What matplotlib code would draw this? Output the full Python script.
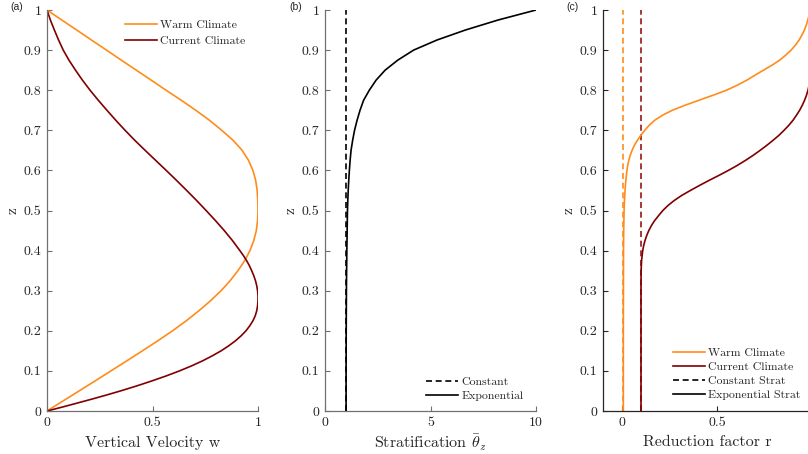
import matplotlib
matplotlib.use("Agg")
import matplotlib.pyplot as plt
from matplotlib.lines import Line2D

plt.rcParams['font.family'] = 'serif'
plt.rcParams['font.serif'] = ['cmr10', 'DejaVu Serif']
plt.rcParams['mathtext.fontset'] = 'cm'
plt.rcParams['axes.formatter.use_mathtext'] = True
plt.rcParams['axes.unicode_minus'] = False

# ---------------- data ----------------
# (a) vertical velocity profiles
z_warm_w = [0, 0.025, 0.05, 0.075, 0.1, 0.125, 0.15, 0.175, 0.2, 0.225, 0.25,
            0.275, 0.3, 0.325, 0.35, 0.375, 0.4, 0.425, 0.45, 0.475, 0.5,
            0.525, 0.55, 0.575, 0.6, 0.625, 0.65, 0.675, 0.7, 0.725, 0.75,
            0.775, 0.8, 0.825, 0.85, 0.875, 0.9, 0.925, 0.95, 0.975, 1.0]
w_warm = [0, 0.076, 0.152, 0.228, 0.303, 0.378, 0.452, 0.525, 0.595, 0.66, 0.72,
          0.775, 0.825, 0.868, 0.905, 0.937, 0.962, 0.98, 0.992, 0.998, 1.0,
          0.999, 0.996, 0.989, 0.976, 0.955, 0.925, 0.882, 0.828, 0.77, 0.705,
          0.636, 0.564, 0.494, 0.423, 0.352, 0.282, 0.211, 0.141, 0.07, 0]

z_curr_w = [0, 0.005, 0.01, 0.02, 0.03, 0.04, 0.05, 0.0625, 0.075, 0.0875, 0.1,
            0.1125, 0.125, 0.1375, 0.15, 0.1625, 0.175, 0.1875, 0.2, 0.2125,
            0.225, 0.2375, 0.25, 0.2625, 0.275, 0.2875, 0.3, 0.3125, 0.325,
            0.3375, 0.35, 0.3625, 0.375, 0.3875, 0.4, 0.425, 0.45, 0.475, 0.5,
            0.525, 0.55, 0.575, 0.6, 0.625, 0.65, 0.675, 0.7, 0.725, 0.75,
            0.775, 0.8, 0.825, 0.85, 0.875, 0.9, 0.925, 0.95, 0.975, 1.0]
w_curr = [0, 0.037, 0.074, 0.145, 0.215, 0.283, 0.348, 0.425, 0.497, 0.565, 0.628,
          0.685, 0.737, 0.783, 0.825, 0.861, 0.893, 0.92, 0.943, 0.961,
          0.976, 0.987, 0.994, 0.998, 1.0, 1.0, 0.998, 0.994, 0.988,
          0.98, 0.97, 0.959, 0.946, 0.931, 0.914, 0.879, 0.84, 0.798, 0.754,
          0.709, 0.662, 0.614, 0.565, 0.515, 0.465, 0.416, 0.37, 0.326, 0.284,
          0.243, 0.204, 0.168, 0.135, 0.104, 0.077, 0.055, 0.035, 0.016, 0]

# (b) stratification profiles
z_strat = [0, 0.1, 0.2, 0.3, 0.4, 0.45, 0.5, 0.525, 0.55, 0.575, 0.6, 0.625,
           0.65, 0.675, 0.7, 0.725, 0.75, 0.775, 0.8, 0.825, 0.85, 0.875, 0.9,
           0.925, 0.95, 0.975, 1.0]
theta_const = [1.0] * len(z_strat)
theta_exp = [1.0, 1.0, 1.005, 1.015, 1.035, 1.05, 1.065, 1.08, 1.10, 1.125, 1.155,
             1.19, 1.235, 1.31, 1.40, 1.52, 1.66, 1.83, 2.10, 2.42, 2.85, 3.45,
             4.20, 5.30, 6.65, 8.20, 10.0]

# (c) reduction factor
z_r_const = [0, 1]
r_warm_const = [0.007, 0.007]
r_curr_const = [0.1, 0.1]

z_r_warm = [0, 0.2, 0.4, 0.45, 0.5, 0.525, 0.55, 0.575, 0.6, 0.6125, 0.625,
            0.6375, 0.65, 0.6625, 0.675, 0.6875, 0.7, 0.7125, 0.725, 0.7375,
            0.75, 0.7625, 0.775, 0.7875, 0.8, 0.8125, 0.825, 0.8375, 0.85,
            0.8625, 0.875, 0.8875, 0.9, 0.9125, 0.925, 0.9375, 0.95, 0.9625,
            0.975, 0.9875, 1.0]
r_warm = [0.007, 0.007, 0.008, 0.009, 0.011, 0.013, 0.016, 0.02, 0.026, 0.03, 0.036,
          0.043, 0.053, 0.065, 0.081, 0.099, 0.12, 0.143, 0.172, 0.213,
          0.265, 0.332, 0.405, 0.48, 0.55, 0.607, 0.657, 0.70, 0.745,
          0.79, 0.83, 0.862, 0.89, 0.913, 0.932, 0.947, 0.96, 0.97,
          0.978, 0.985, 0.99]

z_r_curr = [0, 0.3, 0.35, 0.375, 0.4, 0.4125, 0.425, 0.4375, 0.45, 0.4625, 0.475,
            0.4875, 0.5, 0.5125, 0.525, 0.5375, 0.55, 0.5625, 0.575, 0.5875,
            0.6, 0.6125, 0.625, 0.6375, 0.65, 0.6625, 0.675, 0.6875, 0.7,
            0.7125, 0.725, 0.7375, 0.75, 0.7625, 0.775, 0.7875, 0.8, 0.825,
            0.85, 0.9, 1.0]
r_curr = [0.1, 0.1, 0.1005, 0.103, 0.109, 0.114, 0.121, 0.13, 0.141, 0.155, 0.172,
          0.193, 0.215, 0.242, 0.275, 0.314, 0.36, 0.408, 0.458, 0.51,
          0.56, 0.607, 0.65, 0.69, 0.727, 0.762, 0.795, 0.826, 0.853,
          0.878, 0.90, 0.918, 0.935, 0.949, 0.961, 0.971, 0.979, 0.99,
          0.996, 1.0, 1.0]

yticks = [0, 0.1, 0.2, 0.3, 0.4, 0.5, 0.6, 0.7, 0.8, 0.9, 1.0]
yticklabels = ['0', '0.1', '0.2', '0.3', '0.4', '0.5', '0.6', '0.7', '0.8', '0.9', '1']

ORANGE = '#FF8C1A'
MAROON = '#800000'
TXT = '#262626'
DASH = (0, (3.6, 2.2))

W, H = 808, 454
fig = plt.figure(figsize=(W / 100, H / 100), dpi=100)


def make_ax(left, right, top=10, bottom=411):
    return fig.add_axes([left / W, 1 - bottom / H, (right - left) / W, (bottom - top) / H])


def style(ax, spine_color):
    for s in ['top', 'right']:
        ax.spines[s].set_visible(False)
    for s in ['left', 'bottom']:
        ax.spines[s].set_color(spine_color)
        ax.spines[s].set_linewidth(0.9)
    ax.tick_params(direction='in', length=3.5, width=0.8, color=spine_color,
                   labelsize=10, labelcolor=TXT, pad=4)
    ax.set_ylim(0, 1)
    ax.set_yticks(yticks)
    ax.set_yticklabels(yticklabels)
    ax.set_ylabel('z', fontsize=11, color=TXT, labelpad=3)


leg_kw = dict(frameon=False, fontsize=8.5, handlelength=2.75, handletextpad=0.25,
              labelspacing=0.32, borderaxespad=0.0, borderpad=0.0, labelcolor=TXT)
lw = 1.2

# ---- (a)
ax1 = make_ax(47, 258)
ax1.plot(w_warm, z_warm_w, color=ORANGE, lw=lw, label='Warm Climate')
ax1.plot(w_curr, z_curr_w, color=MAROON, lw=lw, label='Current Climate')
ax1.set_xlim(0, 1)
ax1.set_xticks([0, 0.5, 1])
ax1.set_xticklabels(['0', '0.5', '1'])
style(ax1, '#707070')
ax1.set_xlabel('Vertical Velocity w', fontsize=11.5, color=TXT, labelpad=5)
leg_a = dict(leg_kw, labelspacing=0.45)
ax1.legend(loc='upper left', bbox_to_anchor=((125 - 47) / 211, (411 - 20) / 401), **leg_a)

# ---- (b)
ax2 = make_ax(325, 536)
ax2.plot(theta_const, z_strat, color='black', lw=lw, ls=DASH, label='Constant')
ax2.plot(theta_exp, z_strat, color='black', lw=lw, label='Exponential')
ax2.set_xlim(0, 10)
ax2.set_xticks([0, 5, 10])
ax2.set_xticklabels(['0', '5', '10'])
style(ax2, '#707070')
ax2.set_xlabel(r'Stratification $\bar{\theta}_z$', fontsize=11.5, color=TXT, labelpad=3)
ax2.legend(loc='lower left', bbox_to_anchor=((426 - 325) / 211, (411 - 401) / 401), **leg_kw)

# ---- (c)
ax3 = make_ax(603, 812)
ax3.plot(r_warm_const, z_r_const, color=ORANGE, lw=lw, ls=DASH)
ax3.plot(r_curr_const, z_r_const, color='#9B1515', lw=lw, ls=DASH)
ax3.plot(r_warm, z_r_warm, color=ORANGE, lw=lw)
ax3.plot(r_curr, z_r_curr, color=MAROON, lw=lw)
ax3.set_xlim(-0.1, 1.0)
ax3.set_xticks([0, 0.5])
ax3.set_xticklabels(['0', '0.5'])
style(ax3, '#262626')
ax3.set_xlabel('Reduction factor r', fontsize=11.5, color=TXT, labelpad=5)
handles = [Line2D([], [], color=ORANGE, lw=lw),
           Line2D([], [], color=MAROON, lw=lw),
           Line2D([], [], color='black', lw=lw, ls=DASH),
           Line2D([], [], color='black', lw=lw)]
labels = ['Warm Climate', 'Current Climate', 'Constant Strat', 'Exponential Strat']
ax3.legend(handles, labels, loc='lower left',
           bbox_to_anchor=((673 - 603) / 209, (411 - 400) / 401), **leg_kw)

# panel labels
for x, lab in [(10, '(a)'), (289, '(b)'), (566, '(c)')]:
    fig.text(x / W, 1 - 7 / H, lab, fontsize=7.5, family=['Liberation Sans', 'DejaVu Sans'],
             color=TXT, va='center', ha='left')

fig.savefig('out.png', dpi=100)
